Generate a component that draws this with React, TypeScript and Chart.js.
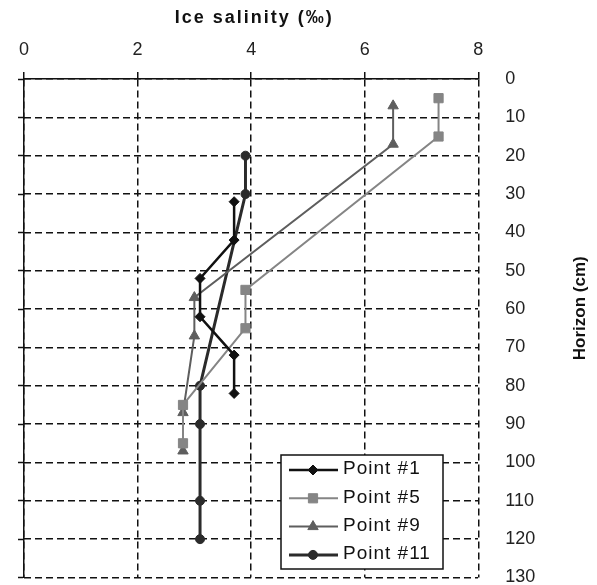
import React, { useEffect, useRef } from "react";
import { Chart, registerables } from "chart.js";
import { drawPoint } from "chart.js/helpers";

Chart.register(...registerables);

// ---- Data (salinity in ‰, depth in cm) ----
const seriesNames = ["Point #1", "Point #5", "Point #9", "Point #11"];

const depthP1 = [32, 42, 52, 62, 72, 82];
const salinityP1 = [3.7, 3.7, 3.1, 3.1, 3.7, 3.7];

const depthP5 = [5, 15, 55, 65, 85, 95];
const salinityP5 = [7.3, 7.3, 3.9, 3.9, 2.8, 2.8];

const depthP9 = [7, 17, 57, 67, 87, 97];
const salinityP9 = [6.5, 6.5, 3.0, 3.0, 2.8, 2.8];

const depthP11 = [20, 30, 80, 90, 110, 120];
const salinityP11 = [3.9, 3.9, 3.1, 3.1, 3.1, 3.1];

const xMin = 0;
const xMax = 8;
const xStep = 2;
const yMin = 0;
const yMax = 130;
const yStep = 10;

const xTitle = "Ice salinity (‰)";
const yTitle = "Horizon (cm)";

const FONT = "Arial, 'Liberation Sans', sans-serif";

const seriesStyles = [
  { color: "#111111", pointStyle: "rectRot", radius: 5, lineWidth: 2.5 },
  { color: "#858585", pointStyle: "rect", radius: 6.5, lineWidth: 2 },
  { color: "#5e5e5e", pointStyle: "triangle", radius: 6, lineWidth: 2 },
  { color: "#2b2b2b", pointStyle: "circle", radius: 4.5, lineWidth: 3 },
];

const seriesData = [
  [salinityP1, depthP1],
  [salinityP5, depthP5],
  [salinityP9, depthP9],
  [salinityP11, depthP11],
];

const overlayPlugin = {
  id: "overlay",
  afterDraw(chart: any) {
    const ctx = chart.ctx as CanvasRenderingContext2D;
    const { left, right, top, bottom } = chart.chartArea;
    ctx.save();
    // x-axis title (top)
    ctx.font = `bold 18px ${FONT}`;
    ctx.fillStyle = "#111";
    ctx.textAlign = "center";
    ctx.textBaseline = "middle";
    (ctx as any).letterSpacing = "2px";
    ctx.fillText(xTitle, (left + right) / 2 + 3, 18);
    (ctx as any).letterSpacing = "0px";
    // y-axis title (right, reading bottom-to-top)
    ctx.save();
    ctx.translate(right + 102, top + (bottom - top) / 2 - 20);
    ctx.rotate(-Math.PI / 2);
    ctx.font = `bold 17px ${FONT}`;
    ctx.fillText(yTitle, 0, 0);
    ctx.restore();

    // legend inside the plot
    const bx = left + 257;
    const by = top + 376;
    const bw = 162;
    const bh = 114;
    ctx.fillStyle = "#ffffff";
    ctx.fillRect(bx, by, bw, bh);
    ctx.strokeStyle = "#111";
    ctx.lineWidth = 1.5;
    ctx.setLineDash([]);
    ctx.strokeRect(bx, by, bw, bh);
    chart.data.datasets.forEach((ds: any, i: number) => {
      const cy = by + 15 + i * 28.3;
      ctx.strokeStyle = ds.borderColor;
      ctx.lineWidth = ds.borderWidth;
      ctx.beginPath();
      ctx.moveTo(bx + 8, cy);
      ctx.lineTo(bx + 57, cy);
      ctx.stroke();
      ctx.fillStyle = ds.pointBackgroundColor;
      ctx.strokeStyle = ds.pointBorderColor;
      ctx.lineWidth = 1;
      drawPoint(ctx, { pointStyle: ds.pointStyle, radius: ds.pointRadius, rotation: 0, borderWidth: 1 }, bx + 32, cy);
      ctx.fillStyle = "#111";
      ctx.textAlign = "left";
      ctx.textBaseline = "middle";
      ctx.font = `19px ${FONT}`;
      (ctx as any).letterSpacing = "1px";
      ctx.fillText(ds.label, bx + 62, cy - 1);
      (ctx as any).letterSpacing = "0px";
    });
    ctx.restore();
  },
};

export default function App() {
  const canvasRef = useRef<HTMLCanvasElement | null>(null);

  useEffect(() => {
    const canvas = canvasRef.current;
    if (!canvas) return;
    const datasets = seriesNames.map((name, i) => {
      const [xs, ys] = seriesData[i];
      const st = seriesStyles[i];
      return {
        label: name,
        data: xs.map((v, k) => ({ x: v, y: ys[k] })),
        showLine: true,
        borderColor: st.color,
        backgroundColor: st.color,
        borderWidth: st.lineWidth,
        pointStyle: st.pointStyle,
        pointRadius: st.radius,
        pointBackgroundColor: st.color,
        pointBorderColor: st.color,
        pointBorderWidth: 1,
        xAxisID: "x",
        yAxisID: "y",
      };
    });

    const chart = new Chart(canvas, {
      type: "scatter",
      data: { datasets } as any,
      options: {
        animation: false,
        responsive: false,
        maintainAspectRatio: false,
        layout: { padding: { top: 0, left: 0, right: 0, bottom: 4 } },
        plugins: {
          legend: { display: false },
          tooltip: { enabled: false },
        },
        scales: {
          x: {
            type: "linear",
            position: "top",
            min: xMin,
            max: xMax,
            ticks: {
              stepSize: xStep,
              padding: 11,
              color: "#222",
              font: { family: FONT, size: 18 },
            },
            grid: {
              color: "#111",
              lineWidth: 1.5,
              tickLength: 7,
              tickColor: "#111",
              tickWidth: 1.5,
            },
            border: { display: true, color: "#111", width: 1.5, dash: [7, 4] },
            afterFit: (s: any) => {
              s.height = 79;
              s.paddingLeft = 0;
              s.paddingRight = 0;
            },
          },
          y: {
            type: "linear",
            position: "right",
            reverse: true,
            min: yMin,
            max: yMax,
            ticks: {
              stepSize: yStep,
              padding: 27,
              color: "#222",
              font: { family: FONT, size: 18 },
            },
            grid: { color: "#111", lineWidth: 1.5, drawTicks: false },
            border: { display: false, dash: [7, 4] },
            afterFit: (s: any) => {
              s.width = 118.7;
              s.paddingTop = 0;
              s.paddingBottom = 0;
            },
          },
          y2: {
            type: "linear",
            position: "left",
            reverse: true,
            min: yMin,
            max: yMax,
            ticks: { stepSize: yStep, display: false },
            grid: {
              drawOnChartArea: false,
              tickLength: 6,
              tickColor: "#111",
              tickWidth: 1.5,
            },
            border: { display: true, color: "#111", width: 1.5 },
            afterFit: (s: any) => {
              s.width = 24;
              s.paddingTop = 0;
              s.paddingBottom = 0;
            },
          },
        },
      } as any,
      plugins: [overlayPlugin],
    });
    return () => chart.destroy();
  }, []);

  return (
    <div style={{ position: "absolute", left: 0, top: 0, width: 597, height: 585, background: "#fff" }}>
      <canvas ref={canvasRef} width={597} height={585} />
    </div>
  );
}
